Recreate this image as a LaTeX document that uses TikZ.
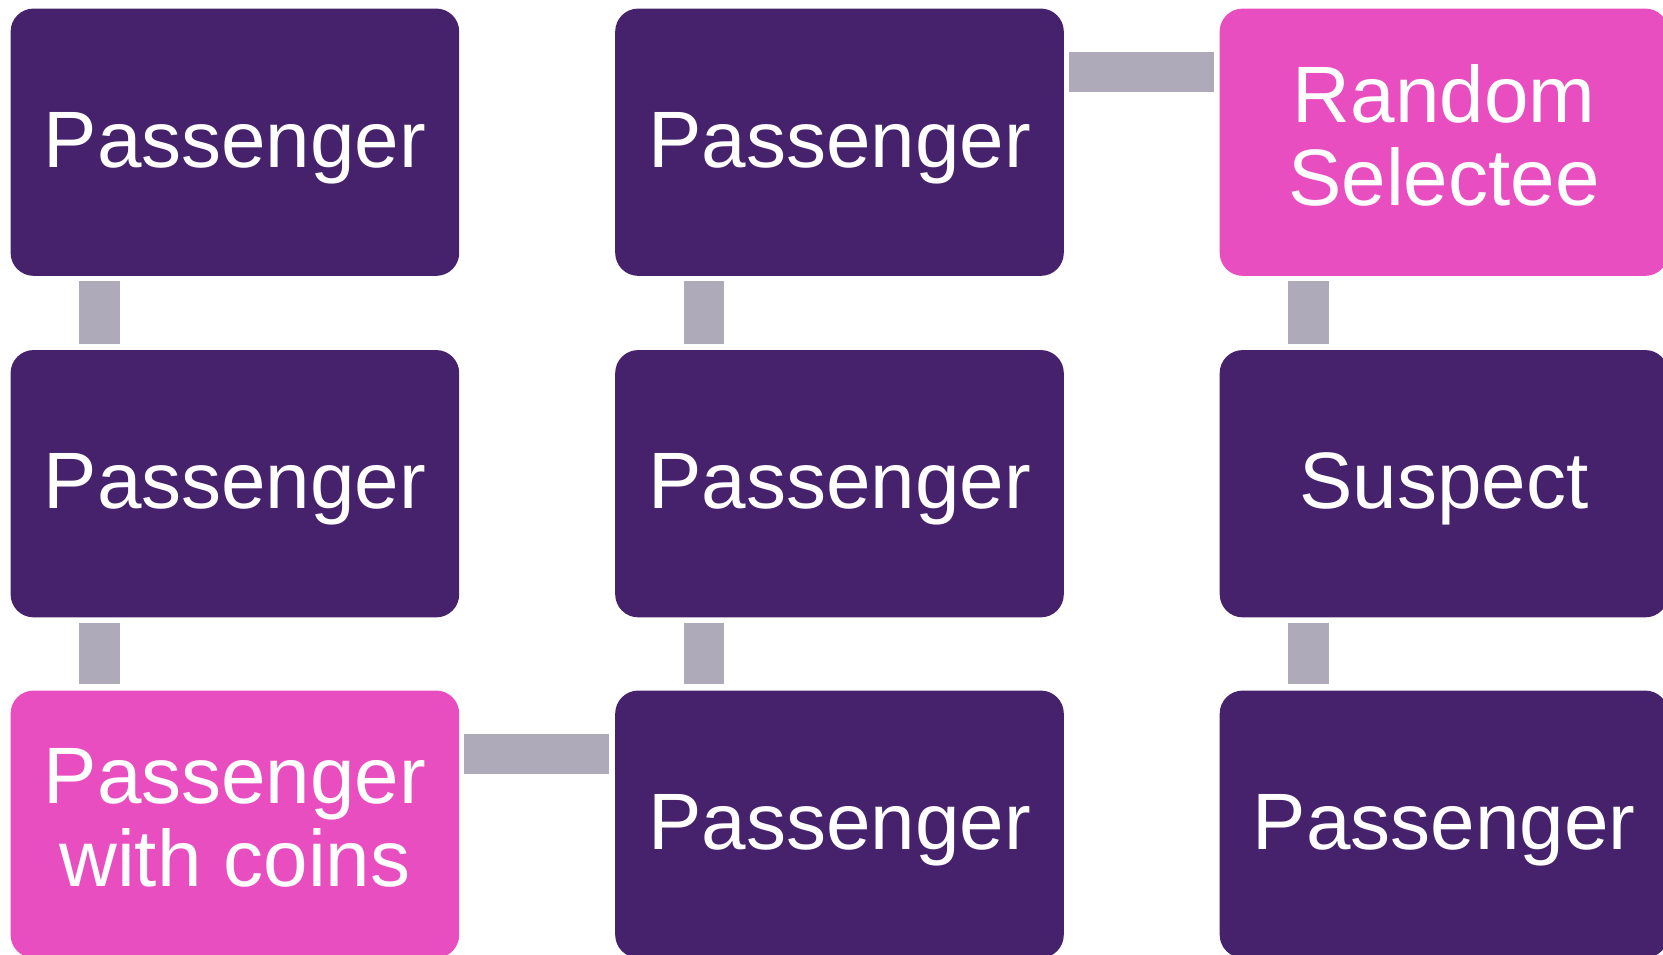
\documentclass[tikz,border=0pt]{standalone}
\usepackage{fontspec}
\setmainfont{Liberation Sans}
\definecolor{boxpurple}{RGB}{70,34,108}
\definecolor{boxpink}{RGB}{233,78,192}
\definecolor{conngray}{RGB}{175,170,186}
\newcommand{\lowstrut}{\rule[-14pt]{0pt}{14pt}}
\tikzset{
  box/.style={rectangle, rounded corners=23pt, minimum width=448.6pt, minimum height=267.3pt,
    inner sep=0pt, text=white, align=center, font=\fontsize{80pt}{83pt}\selectfont},
  dark/.style={box, fill=boxpurple, text height=58pt, text depth=8pt},
  hot/.style={box, fill=boxpink},
  conn/.style={draw=conngray, line width=40.3pt, shorten >=6pt, shorten <=5pt}
}
\begin{document}
\begin{tikzpicture}[x=1pt,y=1pt]
\useasboundingbox (0,0) rectangle (1663,-954);
\node[dark] (a1) at (234.9,-142.2) {Passenger};
\node[dark] (a2) at (234.9,-483.7) {Passenger};
\node[hot]  (a3) at (234.9,-824.2) {Passenger\\with coins\lowstrut};
\node[dark] (b1) at (839.5,-142.2) {Passenger};
\node[dark] (b2) at (839.5,-483.7) {Passenger};
\node[dark] (b3) at (839.5,-824.2) {Passenger};
\node[hot]  (c1) at (1444,-142.2) {Random\\Selectee\lowstrut};
\node[dark] (c2) at (1444,-483.7) {Suspect};
\node[dark] (c3) at (1444,-824.2) {Passenger};
\draw[conn] ([xshift=89pt]a1.south west) -- ([xshift=89pt]a2.north west);
\draw[conn] ([xshift=89pt]a2.south west) -- ([xshift=89pt]a3.north west);
\draw[conn] ([xshift=89pt]b1.south west) -- ([xshift=89pt]b2.north west);
\draw[conn] ([xshift=89pt]b2.south west) -- ([xshift=89pt]b3.north west);
\draw[conn] ([xshift=89pt]c1.south west) -- ([xshift=89pt]c2.north west);
\draw[conn] ([xshift=89pt]c2.south west) -- ([xshift=89pt]c3.north west);
\draw[conn] ([yshift=-63.5pt]a3.north east) -- ([yshift=-63.5pt]b3.north west);
\draw[conn] ([yshift=-63.5pt]b1.north east) -- ([yshift=-63.5pt]c1.north west);
\end{tikzpicture}
\end{document}
